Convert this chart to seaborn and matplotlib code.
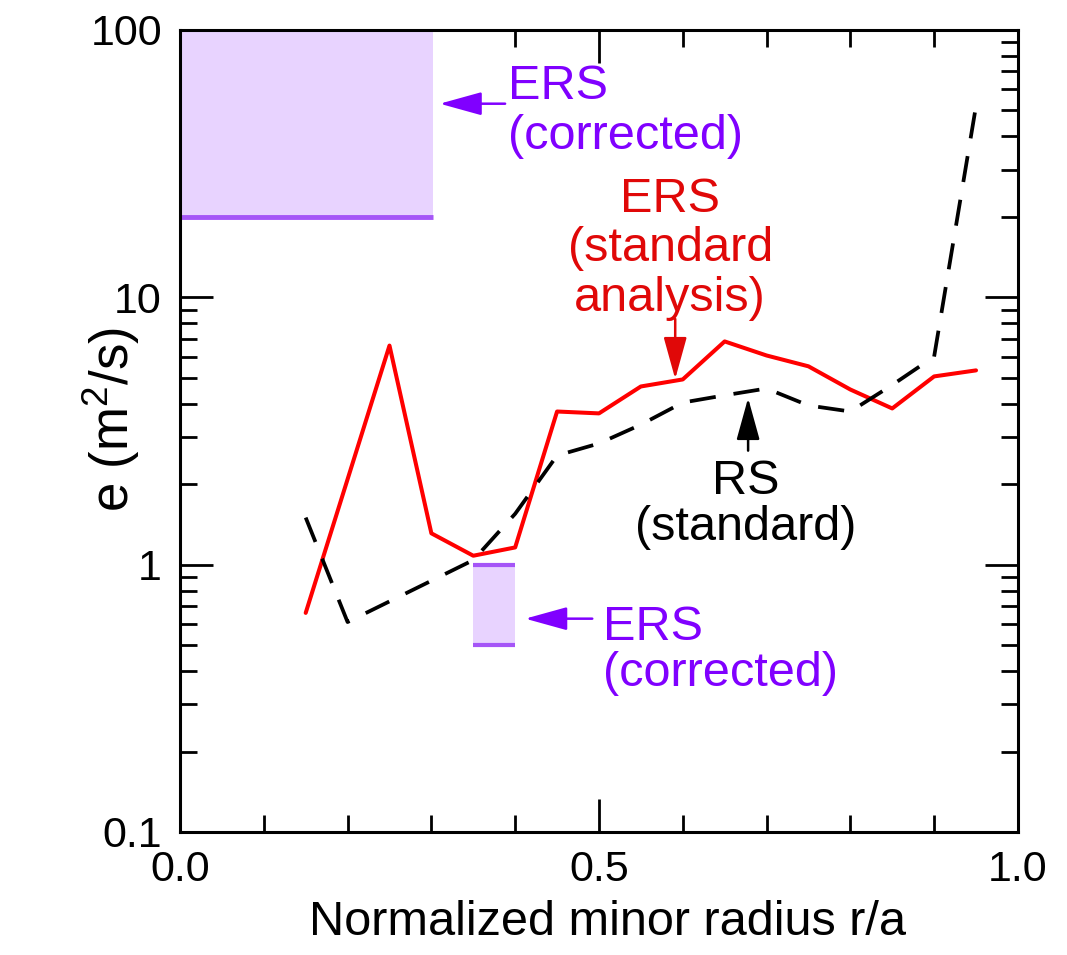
import matplotlib
matplotlib.use("Agg")
import matplotlib.pyplot as plt
from matplotlib.ticker import LogLocator, FixedLocator, NullFormatter, FixedFormatter
import seaborn as sns
import pandas as pd

# Electron diffusivity profiles versus normalized minor radius
ers_r = [0.15, 0.25, 0.30, 0.35, 0.40, 0.45, 0.50, 0.55, 0.60, 0.65,
         0.70, 0.75, 0.80, 0.85, 0.90, 0.95]
ers_chi = [0.66, 6.6, 1.31, 1.08, 1.16, 3.74, 3.68, 4.64, 4.93, 6.84,
           6.06, 5.52, 4.52, 3.84, 5.06, 5.33]

rs_r = [0.15, 0.20, 0.35, 0.40, 0.45, 0.50, 0.55, 0.60, 0.65, 0.70,
        0.75, 0.80, 0.85, 0.90, 0.95]
rs_chi = [1.5, 0.61, 1.04, 1.55, 2.56, 2.84, 3.34, 4.04, 4.3, 4.56,
          3.94, 3.74, 4.7, 6.0, 52.0]

# Corrected ERS ranges: (r_min, r_max, chi_min, chi_max)
core_band = (0.0, 0.30, 20.0, 100.0)
mid_band = (0.35, 0.40, 0.5, 1.0)

x_ticks = [0.0, 0.5, 1.0]
x_tick_labels = ["0.0", "0.5", "1.0"]
y_ticks = [0.1, 1, 10, 100]
y_tick_labels = ["0.1", "1", "10", "100"]

sns.set_style("ticks")
plt.rcParams["font.family"] = ["Liberation Sans", "DejaVu Sans"]
plt.rcParams["mathtext.fontset"] = "custom"
plt.rcParams["mathtext.rm"] = "Liberation Sans"
plt.rcParams["mathtext.it"] = "Liberation Sans"
plt.rcParams["text.color"] = "black"
plt.rcParams["axes.labelcolor"] = "black"

RED = "#ff0000"
RED_TXT = "#e00808"
PURPLE = "#8000ff"
BAND_FILL = "#e8d3ff"
BAND_EDGE = "#a555f7"

fig = plt.figure(figsize=(10.67, 9.55), dpi=100)
ax = fig.add_axes([0.1687, 0.1288, 0.7853, 0.8398])
ax.set_axisbelow(True)

df_ers = pd.DataFrame({"r": ers_r, "chi": ers_chi})
df_rs = pd.DataFrame({"r": rs_r, "chi": rs_chi})

sns.lineplot(data=df_ers, x="r", y="chi", ax=ax, color=RED, lw=2.9,
             estimator=None, sort=False, zorder=4)
sns.lineplot(data=df_rs, x="r", y="chi", ax=ax, color="black", lw=2.7,
             estimator=None, sort=False, zorder=4, linestyle=(0, (7, 4.8)))

# corrected bands
x0, x1, y0, y1 = core_band
ax.fill_between([x0, x1 + 0.002], y0, y1, color=BAND_FILL, lw=0, zorder=1)
ax.hlines(y0, x0, x1 + 0.002, color=BAND_EDGE, lw=3.5, zorder=2)
x0, x1, y0, y1 = mid_band
ax.fill_between([x0, x1], y0, y1, color=BAND_FILL, lw=0, zorder=1)
ax.hlines([y0, y1], x0, x1, color=BAND_EDGE, lw=3.0, zorder=2)

ax.set_yscale("log")
ax.set_xlim(0, 1)
ax.set_ylim(0.1, 100)

ax.xaxis.set_major_locator(FixedLocator(x_ticks))
ax.xaxis.set_major_formatter(FixedFormatter(x_tick_labels))
ax.xaxis.set_minor_locator(FixedLocator([i / 10 for i in range(1, 10) if i != 5]))
ax.yaxis.set_major_locator(FixedLocator(y_ticks))
ax.yaxis.set_major_formatter(FixedFormatter(y_tick_labels))
ax.yaxis.set_minor_locator(LogLocator(base=10, subs=range(2, 10)))
ax.yaxis.set_minor_formatter(NullFormatter())

ax.tick_params(which="both", direction="in", top=True, right=True,
               width=2.0, colors="black", labelsize=31)
ax.tick_params(which="major", length=24, pad=13)
ax.tick_params(which="minor", length=12)
for s in ax.spines.values():
    s.set_linewidth(2.2)
    s.set_color("black")
    s.set_zorder(5)

ax.set_xlabel("Normalized minor radius r/a", fontsize=35, labelpad=6)
ax.xaxis.set_label_coords(0.51, -0.085)
ax.set_ylabel("e (m$^2$/s)", fontsize=38)
ax.yaxis.set_label_coords(-0.045, 0.514)

fs = 35


def arrow(tail, head, color):
    ax.annotate("", xy=head, xytext=tail,
                arrowprops=dict(arrowstyle="-|>,head_length=1.3,head_width=0.36",
                                color=color, lw=1.8, shrinkA=0, shrinkB=0,
                                mutation_scale=20), zorder=6)


arrow((0.388, 53), (0.310, 53), PURPLE)
ax.text(0.391, 49.5, "ERS\n(corrected)", color=PURPLE, fontsize=fs,
        ha="left", va="center", linespacing=1.13)

arrow((0.591, 8.3), (0.591, 4.95), RED_TXT)
ax.text(0.585, 15.2, "ERS\n(standard\nanalysis)", color=RED_TXT, fontsize=fs,
        ha="center", va="center", multialignment="center", linespacing=1.13)

arrow((0.678, 2.67), (0.678, 4.2), "black")
ax.text(0.675, 1.68, "RS\n(standard)", color="black", fontsize=fs,
        ha="center", va="center", multialignment="center", linespacing=1.02)

arrow((0.492, 0.628), (0.412, 0.628), PURPLE)
ax.text(0.505, 0.477, "ERS\n(corrected)", color=PURPLE, fontsize=fs,
        ha="left", va="center", linespacing=1.02)

fig.savefig("out.png", dpi=100)
